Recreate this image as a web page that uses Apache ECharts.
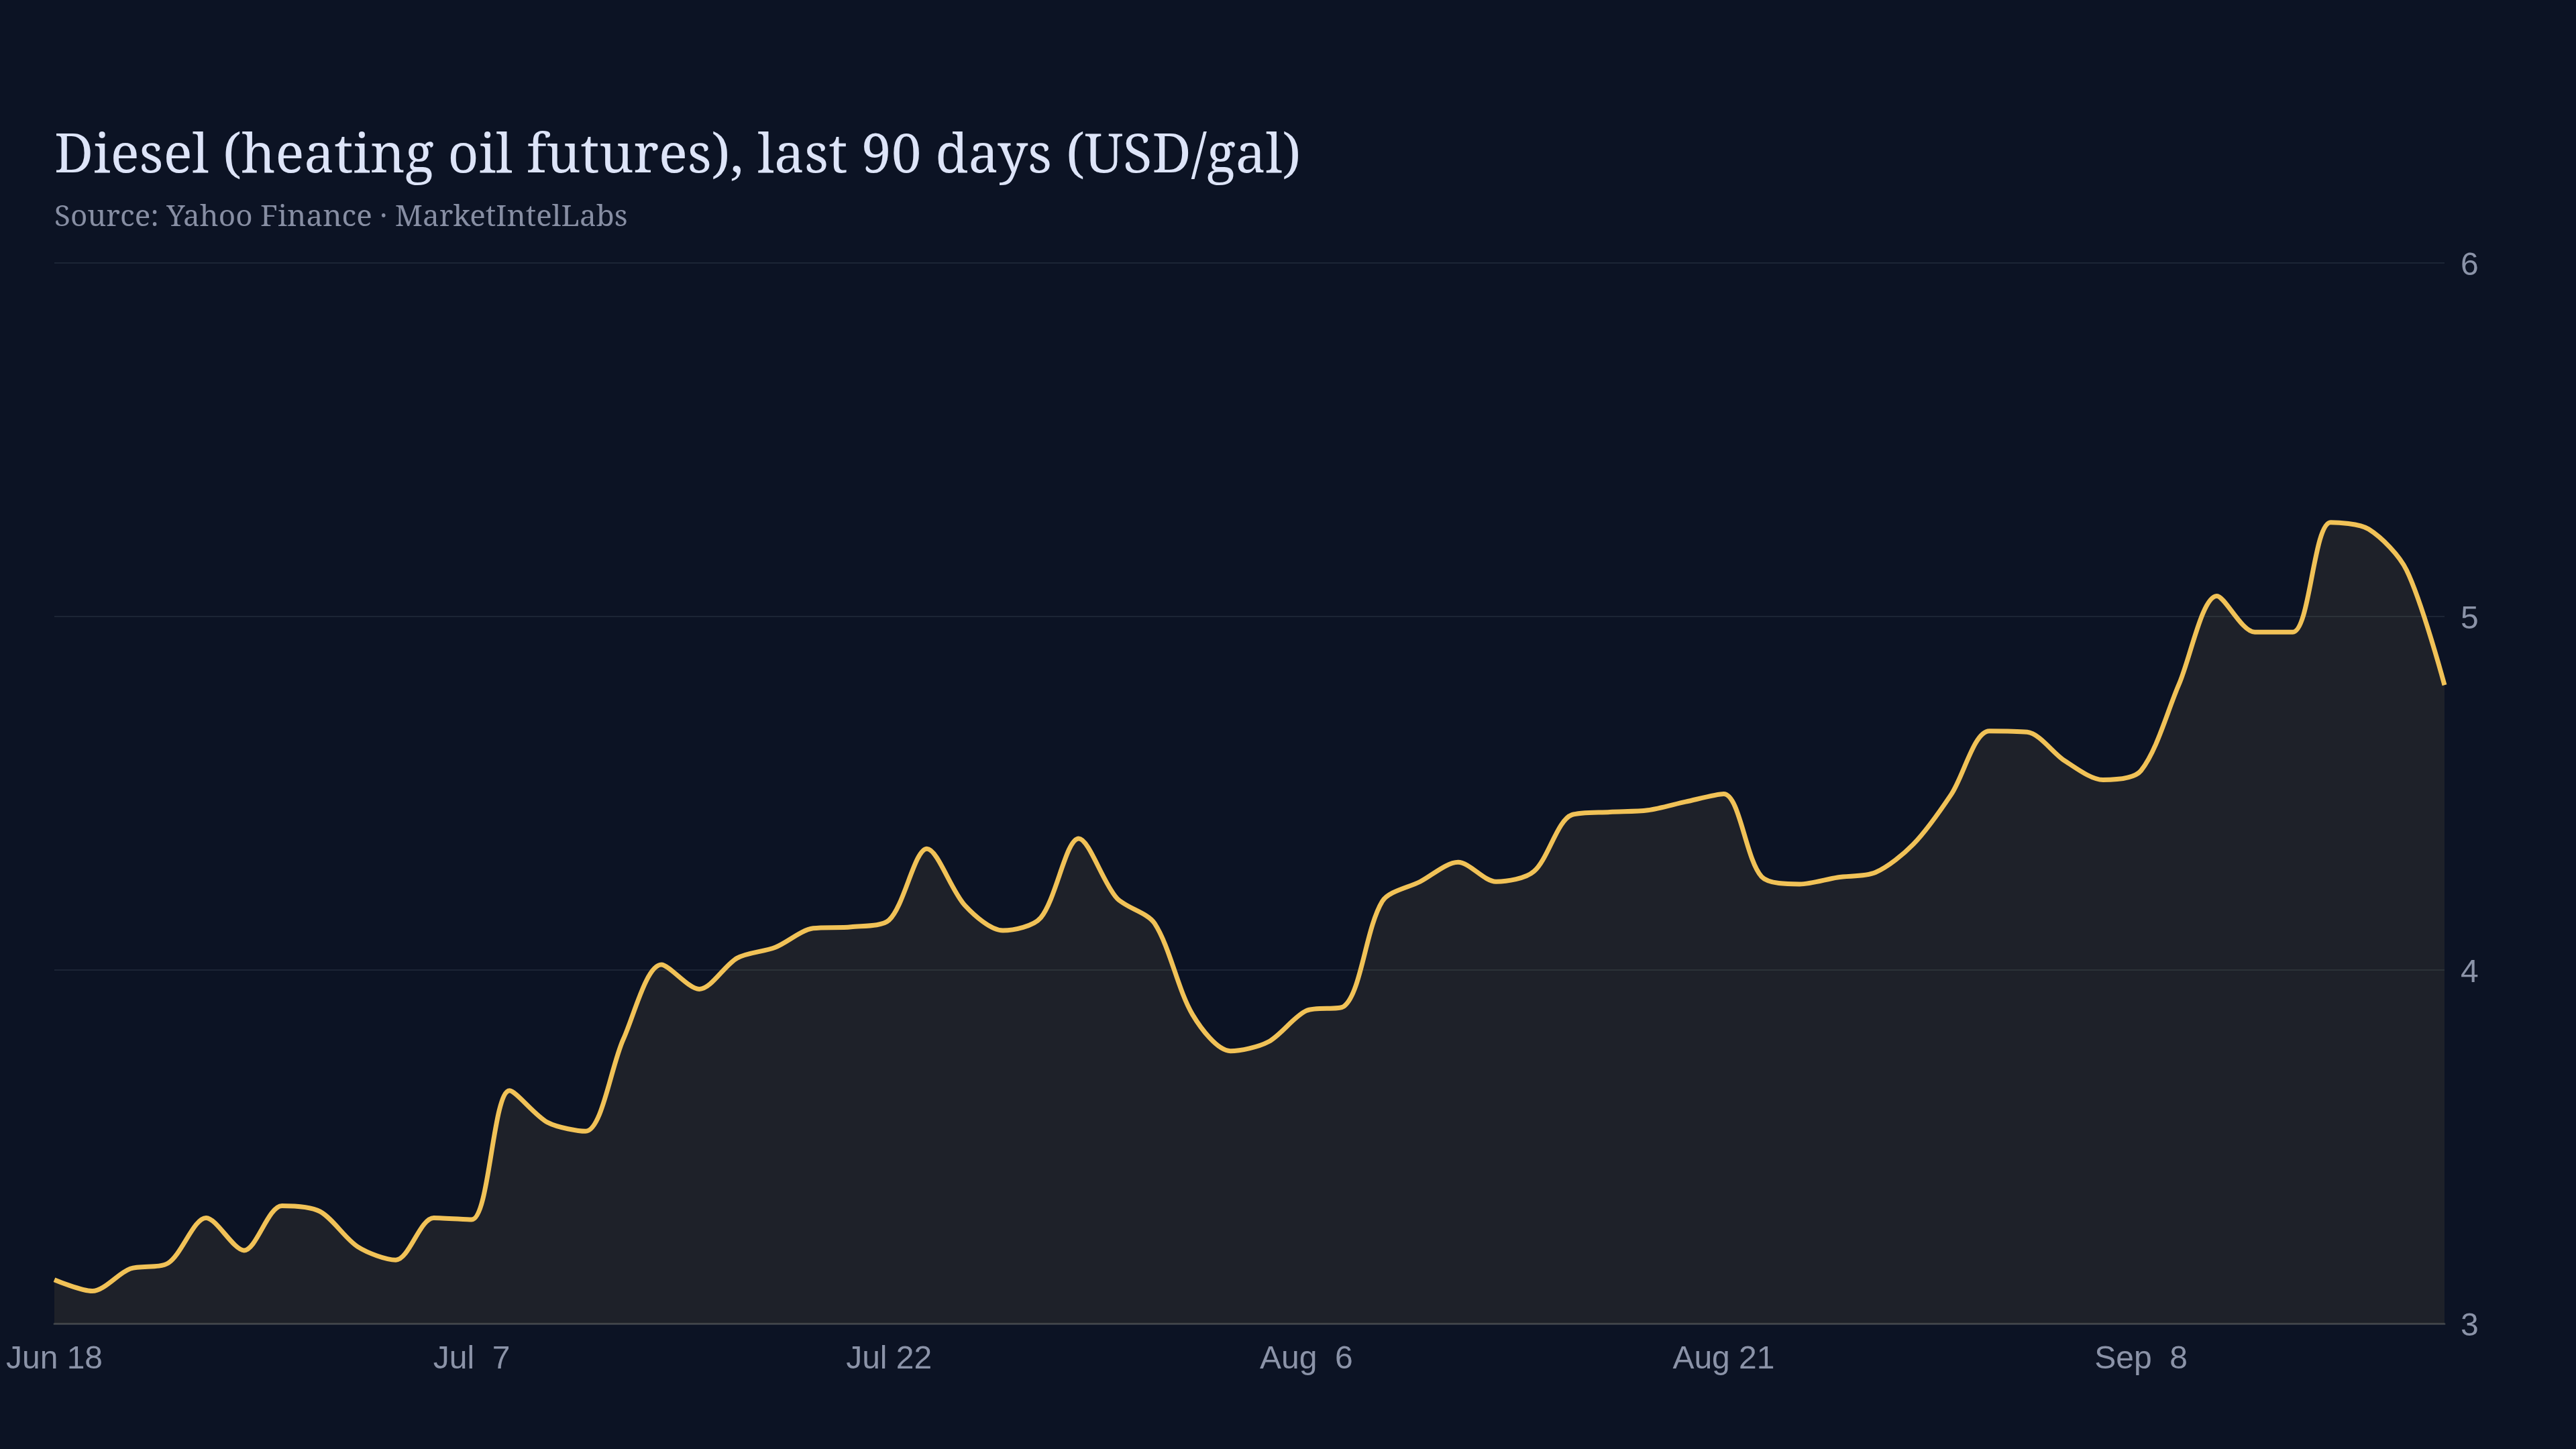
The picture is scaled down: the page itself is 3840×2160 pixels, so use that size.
<!DOCTYPE html>
<html>
<head>
<meta charset="utf-8">
<title>Diesel (heating oil futures), last 90 days</title>
<script src="https://cdn.jsdelivr.net/npm/echarts@6/dist/echarts.min.js"></script>
<style>
  html, body { margin: 0; padding: 0; background: #0c1324; }
  #chart { width: 3840px; height: 2160px; }
</style>
</head>
<body>
<div id="chart"></div>
<script>
// trading days (NYMEX, 2025), Jun 18 -> Sep 18
const dates = [
  '2025-06-18', '2025-06-20', '2025-06-23', '2025-06-24', '2025-06-25', '2025-06-26', '2025-06-27',
  '2025-06-30', '2025-07-01', '2025-07-02', '2025-07-03', '2025-07-07', '2025-07-08', '2025-07-09',
  '2025-07-10', '2025-07-11', '2025-07-14', '2025-07-15', '2025-07-16', '2025-07-17', '2025-07-18',
  '2025-07-21', '2025-07-22', '2025-07-23', '2025-07-24', '2025-07-25', '2025-07-28', '2025-07-29',
  '2025-07-30', '2025-07-31', '2025-08-01', '2025-08-04', '2025-08-05', '2025-08-06', '2025-08-07',
  '2025-08-08', '2025-08-11', '2025-08-12', '2025-08-13', '2025-08-14', '2025-08-15', '2025-08-18',
  '2025-08-19', '2025-08-20', '2025-08-21', '2025-08-22', '2025-08-25', '2025-08-26', '2025-08-27',
  '2025-08-28', '2025-08-29', '2025-09-02', '2025-09-03', '2025-09-04', '2025-09-05', '2025-09-08',
  '2025-09-09', '2025-09-10', '2025-09-11', '2025-09-12', '2025-09-15', '2025-09-16', '2025-09-17',
  '2025-09-18'
];

// close, USD/gal
const prices = [
  3.124, 3.092, 3.155, 3.171, 3.299, 3.207, 3.333, 3.317, 3.217, 3.180,
  3.299, 3.294, 3.659, 3.569, 3.544, 3.805, 4.015, 3.946, 4.034, 4.064,
  4.118, 4.122, 4.141, 4.343, 4.183, 4.112, 4.148, 4.372, 4.204, 4.132,
  3.874, 3.771, 3.797, 3.885, 3.898, 4.194, 4.250, 4.305, 4.250, 4.279,
  4.439, 4.447, 4.452, 4.476, 4.498, 4.264, 4.243, 4.262, 4.276, 4.356,
  4.497, 4.676, 4.673, 4.591, 4.538, 4.564, 4.808, 5.058, 4.956, 4.956,
  5.266, 5.247, 5.131, 4.806
];

const yTicks = [3, 4, 5, 6];
const monthNames = ['Jan', 'Feb', 'Mar', 'Apr', 'May', 'Jun', 'Jul', 'Aug', 'Sep', 'Oct', 'Nov', 'Dec'];

// "Jul  7" style, day padded with a space
function fmtDate(iso) {
  const [y, m, d] = iso.split('-');
  return monthNames[+m - 1] + ' ' + String(+d).padStart(2, ' ');
}

const chart = echarts.init(document.getElementById('chart'));

const option = {
  backgroundColor: '#0c1324',
  animation: false,
  title: {
    text: 'Diesel (heating oil futures), last 90 days (USD/gal)',
    subtext: 'Source: Yahoo Finance · MarketIntelLabs',
    left: 81,
    top: 184,
    padding: 0,
    itemGap: 13,
    textStyle: {
      fontFamily: '"Noto Serif", "DejaVu Serif", serif',
      fontSize: 80,
      fontWeight: 'normal',
      color: '#dde4f8',
      lineHeight: 100
    },
    subtextStyle: {
      fontFamily: '"Noto Serif", "DejaVu Serif", serif',
      fontSize: 44,
      color: '#878ea3',
      lineHeight: 54
    }
  },
  grid: {
    left: 81,
    right: 196,
    top: 392,
    bottom: 187,
    containLabel: false
  },
  xAxis: {
    type: 'category',
    data: dates,
    boundaryGap: false,
    axisLine: { show: true, lineStyle: { color: '#3a3f47', width: 3 } },
    axisTick: { show: false },
    axisLabel: {
      interval: 10,
      margin: 30,
      color: '#8b93a8',
      fontSize: 48,
      fontFamily: '"Liberation Sans", Arial, sans-serif',
      formatter: (v) => fmtDate(v)
    },
    splitLine: { show: false }
  },
  yAxis: {
    type: 'value',
    position: 'right',
    min: yTicks[0],
    max: yTicks[yTicks.length - 1],
    interval: 1,
    axisLine: { show: false },
    axisTick: { show: false },
    axisLabel: {
      margin: 24,
      formatter: (v) => '{t|' + v + '}',
      rich: {
        t: {
          padding: [10, 0, 0, 0],
          color: '#8b93a8',
          fontSize: 48,
          fontFamily: '"Liberation Sans", Arial, sans-serif'
        }
      }
    },
    splitLine: {
      lineStyle: { color: '#1c2535', width: 2 }
    }
  },
  series: [{
    type: 'line',
    data: prices,
    smooth: 0.3,
    showSymbol: false,
    lineStyle: { color: '#f1c257', width: 7 },
    areaStyle: { color: 'rgba(240, 198, 100, 0.115)' }
  }]
};

chart.setOption(option);
</script>
</body>
</html>
